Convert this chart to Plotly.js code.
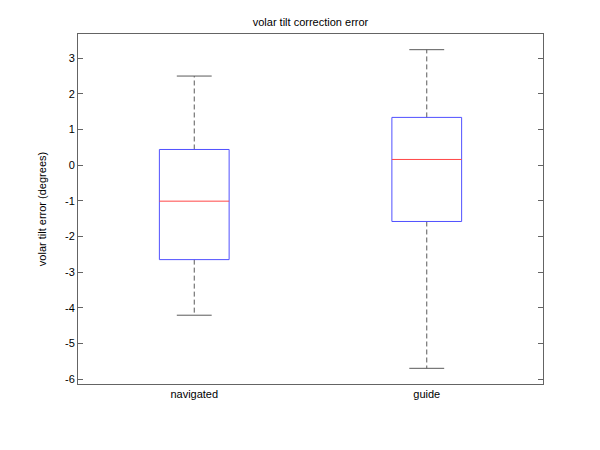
<!DOCTYPE html>
<html>
<head>
<meta charset="utf-8">
<script src="https://cdn.plot.ly/plotly-3.0.1.min.js"></script>
<style>html,body{margin:0;padding:0;background:#fff;}#chart{width:600px;height:450px;}</style>
</head>
<body>
<div id="chart"></div>
<script>
// Data
var categories = ["navigated", "guide"];
var positions = [1, 2];
var upperWhisker = [2.50, 3.24];
var q3 = [0.44, 1.34];
var median = [-1.01, 0.16];
var q1 = [-2.65, -1.58];
var lowerWhisker = [-4.21, -5.70];
var yTickVals = [-6, -5, -4, -3, -2, -1, 0, 1, 2, 3];
var yTickText = ["-6", "-5", "-4", "-3", "-2", "-1", "0", "1", "2", "3"];

var boxHalf = 0.15;
var capHalf = 0.075;
var traces = [];
var grey = "rgb(90,90,90)";

for (var i = 0; i < positions.length; i++) {
  var p = positions[i];
  // dashed whiskers
  traces.push({type: "scatter", mode: "lines", x: [p, p], y: [q3[i], upperWhisker[i]],
    line: {color: grey, width: 1, dash: "5px,3px"}, hoverinfo: "skip", showlegend: false});
  traces.push({type: "scatter", mode: "lines", x: [p, p], y: [q1[i], lowerWhisker[i]],
    line: {color: grey, width: 1, dash: "5px,3px"}, hoverinfo: "skip", showlegend: false});
  // caps
  traces.push({type: "scatter", mode: "lines", x: [p - capHalf, p + capHalf], y: [upperWhisker[i], upperWhisker[i]],
    line: {color: grey, width: 1}, hoverinfo: "skip", showlegend: false});
  traces.push({type: "scatter", mode: "lines", x: [p - capHalf, p + capHalf], y: [lowerWhisker[i], lowerWhisker[i]],
    line: {color: grey, width: 1}, hoverinfo: "skip", showlegend: false});
  // box outline (blue)
  traces.push({type: "scatter", mode: "lines",
    x: [p - boxHalf, p + boxHalf, p + boxHalf, p - boxHalf, p - boxHalf],
    y: [q1[i], q1[i], q3[i], q3[i], q1[i]],
    line: {color: "rgb(80,80,255)", width: 1}, hoverinfo: "skip", showlegend: false});
  // red median
  traces.push({type: "scatter", mode: "lines", x: [p - boxHalf, p + boxHalf], y: [median[i], median[i]],
    line: {color: "rgb(255,70,70)", width: 1}, hoverinfo: "skip", showlegend: false});
}

var fontFam = "Liberation Sans, Arial, Helvetica, sans-serif";
var layout = {
  width: 600, height: 450,
  margin: {l: 78, r: 57, t: 34, b: 66},
  paper_bgcolor: "#fff", plot_bgcolor: "#fff",
  font: {family: fontFam, size: 11, color: "#000"},
  title: {text: "volar tilt correction error", font: {family: fontFam, size: 11, color: "#000"},
          x: 0.5, xref: "paper", y: 1, yref: "paper", yanchor: "bottom", pad: {b: 8}},
  xaxis: {
    range: [0.5, 2.5], tickvals: positions, ticktext: categories,
    ticks: "", showgrid: false, zeroline: false,
    showline: true, mirror: true, linecolor: "rgb(100,100,100)", linewidth: 1,
    tickfont: {family: fontFam, size: 11, color: "#000"}
  },
  yaxis: {
    range: [-6.14, 3.68], tickvals: yTickVals, ticktext: yTickText,
    ticks: "inside", ticklen: 5, tickcolor: "rgb(100,100,100)", tickwidth: 1,
    showgrid: false, zeroline: false,
    showline: true, mirror: "ticks", linecolor: "rgb(100,100,100)", linewidth: 1,
    tickfont: {family: fontFam, size: 11, color: "#000"},
    title: {text: "volar tilt error (degrees)", font: {family: fontFam, size: 11, color: "#000"}, standoff: 16}
  }
};

Plotly.newPlot("chart", traces, layout, {staticPlot: true, displayModeBar: false});
</script>
</body>
</html>
